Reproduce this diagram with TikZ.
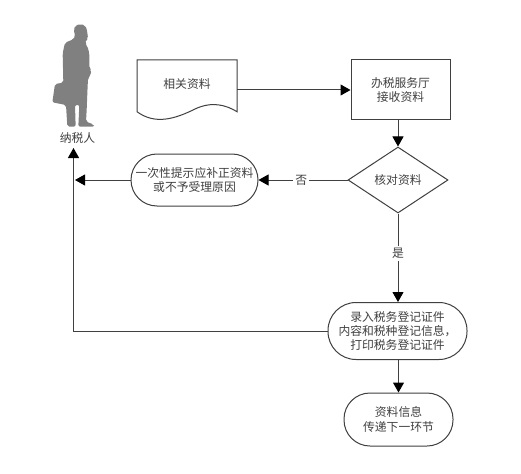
\documentclass[tikz,border=0pt]{standalone}
\usepackage{fontspec}
\setmainfont{Noto Sans CJK SC}
\usetikzlibrary{shapes.geometric,arrows.meta}
\definecolor{linegray}{gray}{0.25}
\definecolor{persongray}{gray}{0.5}
\tikzset{
  x=1pt,y=-1pt,
  base/.style={draw=linegray,line width=1pt,align=center,inner sep=0pt,font=\fontsize{11.8}{14.4}\selectfont,text=black!75},
  box/.style={base,rectangle},
  term/.style={base,rectangle,rounded corners=#1},
  decision/.style={base,diamond,aspect=1.54},
  plain/.style={font=\fontsize{11.8}{14.4}\selectfont,text=black!75,inner sep=1pt},
  flow/.style={draw=linegray,line width=1pt,-{Triangle[length=10pt,width=11pt,color=black]}},
  tag/.style={plain,fill=white,inner sep=2pt}
}
\begin{document}
\begin{tikzpicture}
\useasboundingbox[fill=white] (0,0) rectangle (521,473);
% person
\begin{scope}[shift={(30,10)},x=0.3333pt,y=-0.3333pt]
\fill[persongray,rounded corners=2pt] (150,42) -- (165,46) -- (171,58) -- (172,72) -- (175,85) -- (168,90) -- (165,100) -- (172,108) -- (178,130) -- (178,175) -- (184,180) -- (182,195) -- (174,205) -- (172,250) -- (170,300) -- (168,335) -- (190,343) -- (193,350) -- (145,350) -- (148,285) -- (135,285) -- (137,350) -- (112,350) -- (108,285) -- (67,277) -- (75,222) -- (100,218) -- (98,130) -- (105,98) -- (130,88) -- (136,78) -- (131,60) -- (135,48) -- cycle;
\end{scope}
\node[plain] (person) at (77.5,138) {纳税人};
% document
\node[minimum width=100pt,minimum height=60pt,inner sep=0pt] (doc) at (187,90) {};
\draw[linegray,line width=1pt] (137,111.7) -- (137,60) -- (237,60) -- (237,111.7)
  .. controls (226,105) and (212,101) .. (195,109)
  .. controls (175,119) and (155,125) .. (137,111.7) -- cycle;
\node[plain] (doctext) at (187,84.5) {相关资料};
% nodes
\node[box,minimum width=99pt,minimum height=60pt] (hall) at (400.5,90) {办税服务厅\\接收资料};
\node[decision,minimum width=100pt,minimum height=66pt] (check) at (398,180) {核对资料};
\node[term=26pt,minimum width=127pt,minimum height=52pt] (notice) at (194.5,180) {一次性提示应补正资料\\或不予受理原因};
\node[term=28pt,minimum width=139pt,minimum height=57pt] (enter) at (397.5,331) {录入税务登记证件\\内容和税种登记信息，\\打印税务登记证件};
\node[term=26pt,minimum width=109pt,minimum height=53pt] (pass) at (398.5,419.5) {资料信息\\传递下一环节};
\coordinate (up) at (73.5,148);
\coordinate (side) at (75,180);
% connectors
\draw[flow] (doc.east) -- (hall.west);
\draw[flow] (hall.south -| check.north) -- (check.north);
\draw[flow] (check.west) -- node[tag,pos=0.52] (no) {否} (notice.east);
\draw[flow] (check.south) -- node[tag,pos=0.45] (yes) {是} (enter.north -| check.south);
\draw[flow] (enter.south -| pass.north) -- (pass.north);
\draw[flow] (notice.west) -- (side);
\draw[flow] (enter.west) -| (up);
\end{tikzpicture}
\end{document}
